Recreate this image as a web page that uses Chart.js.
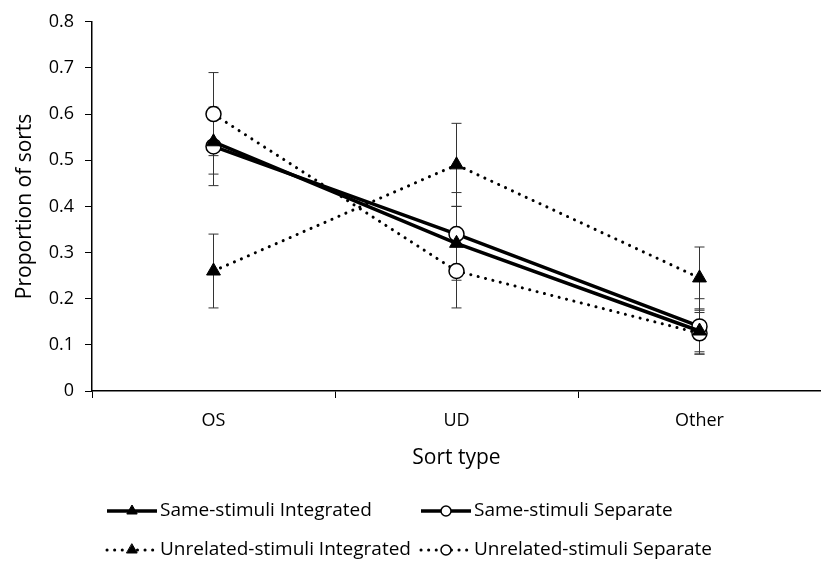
<!DOCTYPE html>
<html>
<head>
<meta charset="utf-8">
<script src="https://cdn.jsdelivr.net/npm/chart.js@4"></script>
<style>
  body { margin: 0; overflow: hidden; background: #fff; }
  #wrap { width: 830px; height: 566px; position: relative; }
</style>
</head>
<body>
<div id="wrap"><canvas id="sortChart"></canvas></div>
<script>
// data
var categories = ["OS", "UD", "Other"];
var sameInt = [0.54, 0.32, 0.13];
var sameSep = [0.53, 0.34, 0.14];
var unrelInt = [0.26, 0.49, 0.245];
var unrelSep = [0.60, 0.26, 0.125];

// error bar half-lengths
var sameIntErr = [0.07, 0.08, 0.045];
var sameSepErr = [0.085, 0.09, 0.06];
var unrelIntErr = [0.08, 0.09, 0.067];
var unrelSepErr = [0.09, 0.08, 0.045];

var FONT = "'Open Sans', sans-serif";

var lineData = {
  labels: categories,
  datasets: [
    {
      label: "Same-stimuli Integrated",
      data: sameInt,
      err: sameIntErr,
      borderColor: "#000",
      borderWidth: 3.5,
      pointStyle: "triangle",
      pointRadius: 8,
      pointBackgroundColor: "#000",
      pointBorderColor: "#000",
      pointBorderWidth: 1,
      legendRadius: 6,
      legendX: 107
    },
    {
      label: "Same-stimuli Separate",
      data: sameSep,
      err: sameSepErr,
      borderColor: "#000",
      borderWidth: 3.5,
      pointStyle: "circle",
      pointRadius: 7.5,
      pointBackgroundColor: "#fff",
      pointBorderColor: "#000",
      pointBorderWidth: 1.5,
      legendRadius: 5,
      legendX: 421
    },
    {
      label: "Unrelated-stimuli Integrated",
      data: unrelInt,
      err: unrelIntErr,
      borderColor: "#000",
      borderWidth: 3,
      borderDash: [0.1, 7.5],
      borderCapStyle: "round",
      pointStyle: "triangle",
      pointRadius: 8,
      pointBackgroundColor: "#000",
      pointBorderColor: "#000",
      pointBorderWidth: 1,
      legendRadius: 6,
      legendX: 107
    },
    {
      label: "Unrelated-stimuli Separate",
      data: unrelSep,
      err: unrelSepErr,
      borderColor: "#000",
      borderWidth: 3,
      borderDash: [0.1, 7.5],
      borderCapStyle: "round",
      pointStyle: "circle",
      pointRadius: 7.5,
      pointBackgroundColor: "#fff",
      pointBorderColor: "#000",
      pointBorderWidth: 1.5,
      legendRadius: 5,
      legendX: 421
    }
  ]
};

// error bars, drawn under the markers
var errorBars = {
  id: "errorBars",
  beforeDatasetsDraw: function(chart) {
    var ctx = chart.ctx;
    var xs = chart.scales.x, ys = chart.scales.y;
    ctx.save();
    ctx.strokeStyle = "#333";
    ctx.lineWidth = 1;
    chart.data.datasets.forEach(function(ds) {
      ds.data.forEach(function(v, i) {
        var x = xs.getPixelForValue(i);
        var t = ys.getPixelForValue(v + ds.err[i]);
        var b = ys.getPixelForValue(v - ds.err[i]);
        ctx.beginPath();
        ctx.moveTo(x, t); ctx.lineTo(x, b);
        ctx.moveTo(x - 5, t); ctx.lineTo(x + 5, t);
        ctx.moveTo(x - 5, b); ctx.lineTo(x + 5, b);
        ctx.stroke();
      });
    });
    ctx.restore();
  }
};

// legend in two rows like the original
var bottomLegend = {
  id: "bottomLegend",
  afterDraw: function(chart) {
    var ctx = chart.ctx;
    var rows = [511, 550];
    ctx.save();
    chart.data.datasets.forEach(function(ds, i) {
      var y = rows[Math.floor(i / 2)];
      var x0 = ds.legendX, x1 = x0 + 50;
      ctx.strokeStyle = "#000";
      ctx.lineWidth = ds.borderWidth;
      ctx.lineCap = ds.borderCapStyle || "butt";
      ctx.setLineDash(ds.borderDash || []);
      ctx.beginPath();
      ctx.moveTo(x0, y); ctx.lineTo(x1, y);
      ctx.stroke();
      ctx.setLineDash([]);
      ctx.fillStyle = ds.pointBackgroundColor;
      ctx.lineWidth = ds.pointBorderWidth;
      Chart.helpers.drawPoint(ctx, {
        pointStyle: ds.pointStyle,
        radius: ds.legendRadius,
        rotation: 0,
        borderWidth: ds.pointBorderWidth
      }, (x0 + x1) / 2, y);
      ctx.fillStyle = "#000";
      ctx.font = "19px " + FONT;
      ctx.textBaseline = "middle";
      ctx.fillText(ds.label, x1 + 3, y);
    });
    ctx.restore();
  }
};

var chartOptions = {
  responsive: true,
  maintainAspectRatio: false,
  animation: false,
  layout: { padding: { left: 0, top: 20, right: 2, bottom: 95 } },
  plugins: { legend: { display: false }, tooltip: { enabled: false } },
  scales: {
    x: {
      type: "category",
      offset: true,
      afterFit: function(s) { s.height = 80; },
      grid: { offset: true, drawOnChartArea: false, drawTicks: true, tickLength: 7, color: "#000" },
      border: { display: true, color: "#000", width: 1.5 },
      ticks: { color: "#000", font: { family: FONT, size: 18 }, padding: 12 },
      title: { display: true, text: "Sort type", color: "#000", font: { family: FONT, size: 21 }, padding: { top: 0, bottom: 0 } }
    },
    y: {
      min: 0,
      max: 0.8,
      afterFit: function(s) { s.width = 92; },
      grid: { drawOnChartArea: false, drawTicks: true, tickLength: 7, color: "#000" },
      border: { display: true, color: "#000", width: 1.5 },
      ticks: {
        stepSize: 0.1,
        color: "#000",
        font: { family: FONT, size: 18 },
        padding: 11,
        callback: function(v) { return v === 0 ? "0" : v.toFixed(1); }
      },
      title: { display: true, text: "Proportion of sorts", color: "#000", font: { family: FONT, size: 21 }, padding: { top: 12, bottom: 0 } }
    }
  }
};

var ctx = document.getElementById("sortChart").getContext("2d");
var sortChart = new Chart(ctx, {
  type: "line",
  data: lineData,
  options: chartOptions,
  plugins: [errorBars, bottomLegend]
});
</script>
</body>
</html>
